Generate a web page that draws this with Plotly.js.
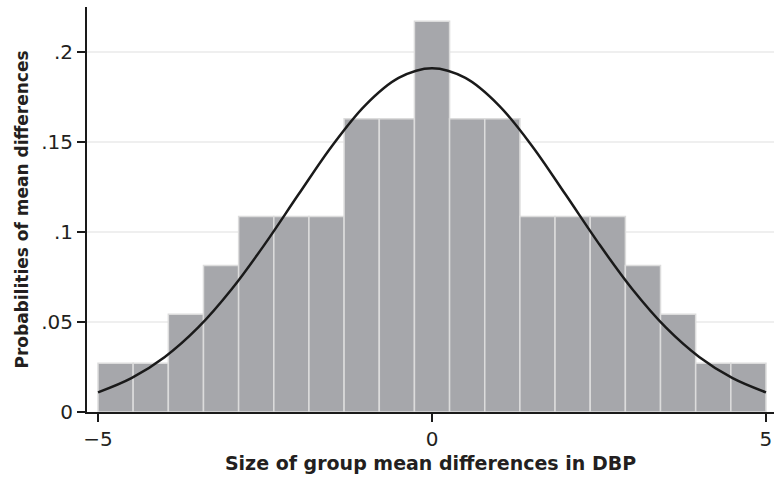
<!DOCTYPE html>
<html>
<head>
<meta charset="utf-8">
<script src="https://cdn.plot.ly/plotly-3.0.1.min.js"></script>
<style>html,body{margin:0;padding:0;background:#fff;}#chart{width:774px;height:483px;}</style>
</head>
<body>
<div id="chart"></div>
<script>
// Histogram bins (centres) and densities
const binCenters = [-4.737, -4.211, -3.684, -3.158, -2.632, -2.105, -1.579, -1.053, -0.526, 0,
                    0.526, 1.053, 1.579, 2.105, 2.632, 3.158, 3.684, 4.211, 4.737];
const binWidth = 0.5263;
const densities = [0.0271, 0.0271, 0.0543, 0.0814, 0.1086, 0.1086, 0.1086, 0.1629, 0.1629, 0.2171,
                   0.1629, 0.1629, 0.1086, 0.1086, 0.1086, 0.0814, 0.0543, 0.0271, 0.0271];
// Fitted curve
const curveX = [-5, -4.5, -4, -3.5, -3, -2.5, -2, -1.5, -1, -0.5, 0, 0.5, 1, 1.5, 2, 2.5, 3, 3.5, 4, 4.5, 5];
const curveY = [0.0109, 0.0188, 0.0306, 0.0470, 0.0682, 0.0934, 0.1208, 0.1477, 0.1704, 0.1856, 0.191,
                0.1856, 0.1704, 0.1477, 0.1208, 0.0934, 0.0682, 0.0470, 0.0306, 0.0188, 0.0109];
const yTickVals = [0, 0.05, 0.1, 0.15, 0.2];
const yTickText = ['0', '.05', '.1', '.15', '.2'];
const xTickVals = [-5, 0, 5];
const xTickText = ['\u22125', '0', '5'];

const traces = [
  {
    type: 'bar', x: binCenters, y: densities, width: binWidth,
    marker: { color: '#a6a7ab', line: { color: '#dcdcdc', width: 1.5 } },
    hoverinfo: 'skip'
  },
  {
    type: 'scatter', mode: 'lines', x: curveX, y: curveY,
    line: { color: '#1a1a1a', width: 2.5, shape: 'spline', smoothing: 1 },
    hoverinfo: 'skip'
  }
];

const fam = 'DejaVu Sans, Liberation Sans, Arial, sans-serif';
const txt = '#231f20';
const layout = {
  width: 774, height: 483,
  margin: { l: 87, r: 0, t: 7, b: 71, pad: 0 },
  paper_bgcolor: '#ffffff', plot_bgcolor: '#ffffff',
  showlegend: false, bargap: 0,
  font: { family: fam, color: txt },
  xaxis: {
    range: [-5.165, 5.12], tickvals: xTickVals, ticktext: xTickText,
    ticks: 'outside', ticklen: 8, tickwidth: 2, tickcolor: '#1a1a1a',
    showline: true, linecolor: '#1a1a1a', linewidth: 2,
    showgrid: false, zeroline: false,
    tickfont: { size: 20, family: fam, color: txt },
    title: { text: '<b>Size of group mean differences in DBP</b>', font: { size: 19, family: fam, color: txt }, standoff: 7 }
  },
  yaxis: {
    range: [0, 0.225], tickvals: yTickVals, ticktext: yTickText,
    ticks: 'outside', ticklen: 8, tickwidth: 2, tickcolor: '#1a1a1a',
    showline: true, linecolor: '#1a1a1a', linewidth: 2,
    showgrid: true, gridcolor: '#efefef', gridwidth: 1.5, zeroline: false,
    tickfont: { size: 20, family: fam, color: txt },
    title: { text: '<b>Probabilities of mean differences</b>', font: { size: 17, family: fam, color: txt }, standoff: 8 }
  }
};

Plotly.newPlot('chart', traces, layout, { displayModeBar: false, staticPlot: true });
</script>
</body>
</html>
